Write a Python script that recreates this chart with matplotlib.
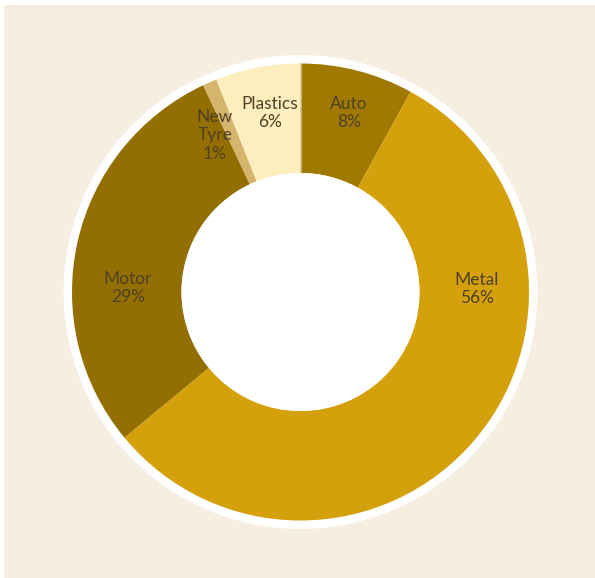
import numpy as np
import matplotlib
matplotlib.use("Agg")
from matplotlib import pyplot as plt
from matplotlib.patches import Circle, Rectangle

# Share of each segment, clockwise from the top
segments = ["Auto", "Metal", "Motor", "New\nTyre", "Plastics"]
shares = [8, 56, 29, 1, 6]
colours = ["#a07900", "#d4a00c", "#936e00", "#d5b46c", "#fdeebd"]

W, H = 595, 578
R = 228.5            # outer radius of the ring, px
CX, CY = 300.5, 286  # ring centre, px from bottom-left

# where each label sits: degrees clockwise from 12 o'clock, fraction of R
label_ang = [15.2, 89, -88.7, -28.6, -9.7]
label_r = [0.812, 0.772, 0.755, 0.782, 0.795]

fig = plt.figure(figsize=(W / 100, H / 100), dpi=100, facecolor="white")
ax = fig.add_axes([0, 0, 1, 1])

wedges, _ = ax.pie(shares, colors=colours, startangle=90, counterclock=False,
                   radius=1, wedgeprops=dict(width=(R - 119) / R, edgecolor="none"))
for w in wedges:
    w.set_zorder(2)

# pie() resets the limits, so set them afterwards
ax.set_aspect("auto")
ax.set_xlim(-CX / R, (W - CX) / R)
ax.set_ylim(-CY / R, (H - CY) / R)
ax.axis("off")

# beige panel with a thin white margin on top and left
ax.add_patch(Rectangle((-(CX - 4) / R, -CY / R), (W - 4) / R, (H - 5) / R,
                       facecolor="#f6eee0", edgecolor="none", zorder=0))
ax.add_patch(Circle((0, 0), 237 / R, facecolor="white", edgecolor="none", zorder=1))
ax.add_patch(Circle((0, 0), 119 / R, facecolor="white", edgecolor="none", zorder=3))

# thin seam where the last slice meets the first one at 12 o'clock
ax.plot([0, 0], [119 / R, 1], color="#c9b27a", lw=0.8, zorder=2.5)

for name, val, a, r in zip(segments, shares, label_ang, label_r):
    t = np.deg2rad(a)
    ax.text(r * np.sin(t), r * np.cos(t), f"{name}\n{val}%",
            ha="center", va="center", fontsize=12.5, family="Lato",
            color="#4f4127", linespacing=1.2, zorder=4)

fig.savefig("out.png", dpi=100, facecolor="white")
